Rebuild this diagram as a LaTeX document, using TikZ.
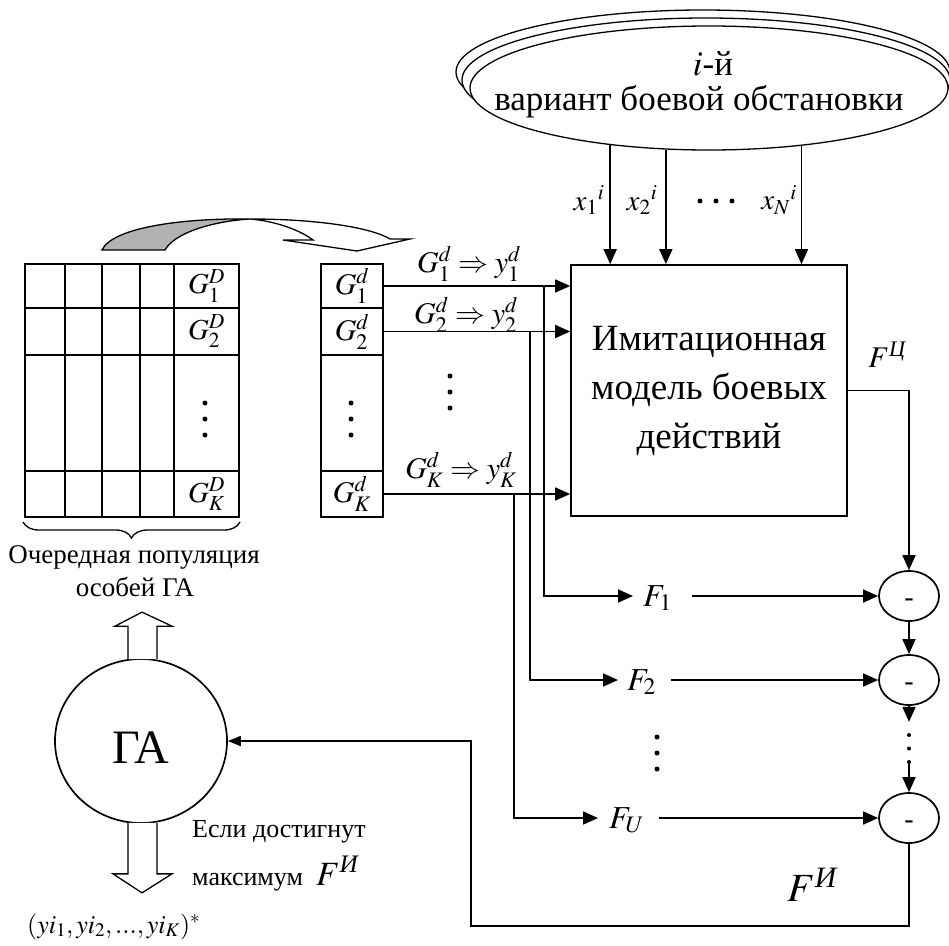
\documentclass[tikz,border=0pt]{standalone}
\usepackage{amsmath}
\usepackage{mathptmx}
\usepackage{fontspec}
\setmainfont{Liberation Serif}
\usepackage{tikz}
\usetikzlibrary{calc,arrows.meta,shapes.geometric,decorations.pathreplacing}
\tikzset{
  base/.style={draw=black, line width=1.7pt},
  thin/.style={draw=black, line width=1.3pt},
  conn/.style={base, -{Triangle[length=15pt,width=13pt]}},
  connsm/.style={base, -{Triangle[length=13pt,width=10pt]}},
  cell/.style={base, rectangle, minimum width=62pt, inner sep=0pt, font=\fontsize{30}{30}\selectfont},
  dotline/.style={line width=5pt, line cap=round, dash pattern=on 0pt off 16pt},
  minus/.style={base, ellipse, minimum width=60pt, minimum height=50pt, inner sep=0pt,
                font=\fontsize{28}{28}\selectfont},
  txt/.style={font=\fontsize{27}{30}\selectfont, inner sep=0pt},
  lab/.style={font=\fontsize{29}{32}\selectfont, inner sep=1pt},
  flab/.style={lab, font=\fontsize{32}{34}\selectfont, inner sep=0pt},
}

\begin{document}
\begin{tikzpicture}[x=1pt,y=-1pt]
  \useasboundingbox (0,0) rectangle (949,945);
  % situation variants, stacked
  \draw[thin] (703,72) ellipse [x radius=247, y radius=62];
  \draw[thin, fill=white] (706,80) ellipse [x radius=244, y radius=62];
  \node[thin, ellipse, fill=white, minimum width=478pt, minimum height=124pt, inner sep=0pt] (sit) at (709,88) {};
  \node[font=\fontsize{35}{38}\selectfont] (sitn) at (713,64) {$i$-й};
  \node[font=\fontsize{35}{38}\selectfont] (sitt) at (699,102) {вариант боевой обстановки};

  % simulation model
  \node[base, minimum width=276pt, minimum height=251pt, inner sep=0pt, align=center,
        font=\fontsize{37}{49}\selectfont] (model) at (709,390.5)
        {Имитационная\\модель боевых\\действий};
  \draw[conn] (sit.210.6) -- (sit.210.6 |- model.north);
  \draw[conn] (sit.235.4) -- (sit.235.4 |- model.north);
  \draw[conn] (sit.328.8) -- (sit.328.8 |- model.north);
  \node[lab] (x1) at (589,200) {$x_1{}^{i}$};
  \node[lab] (x2) at (642,200) {$x_2{}^{i}$};
  \draw[dotline] (700,201) -- (733,201);
  \node[lab] (xn) at (779,200) {$x_N{}^{i}$};

  % population matrix
  \draw[base] (25,264) rectangle (239,517);
  \foreach \x in {65,102,140,174} \draw[base] (\x,264) -- (\x,517);
  \foreach \y in {308,355,471} \draw[base] (25,\y) -- (239,\y);
  \node[lab] (m1) at (206.5,286) {$G_1^D$};
  \node[lab] (m2) at (206.5,331.5) {$G_2^D$};
  \node[lab] (mk) at (206.5,494) {$G_K^D$};
  \draw[dotline] (205,403) -- (205,436);
  \draw[thin, decorate, decoration={brace, mirror, amplitude=16pt}] (23,522) -- (240,522);
  \node[txt, anchor=base] (pop1) at (134,563) {Очередная популяция};
  \node[txt, anchor=base] (pop2) at (135,596) {особей ГА};

  % curved transfer arrow
  \filldraw[thin, fill=black!30] (102,250) .. controls (112,228) and (180,218) .. (250,219)
     .. controls (215,221) and (175,232) .. (165,250) -- cycle;
  \draw[thin, fill=white] (250,219) .. controls (320,219) and (372,228) .. (390,239)
     -- (410,239) -- (357,251) -- (283,240) -- (313,240)
     .. controls (300,230) and (275,221) .. (250,219);

  % decoded column
  \node[cell, minimum height=44pt] (g1) at (352,286) {$G_1^d$};
  \node[cell, minimum height=47pt] (g2) at (352,331.5) {$G_2^d$};
  \node[cell, minimum height=116pt] (gm) at (352,413) {};
  \node[cell, minimum height=46pt] (gk) at (352,494) {$G_K^d$};
  \draw[dotline] (351,403) -- (351,436);

  \draw[conn] (g1.east) -- (g1.east -| model.west);
  \draw[conn] (g2.east) -- (g2.east -| model.west);
  \draw[conn] (gk.east) -- (gk.east -| model.west);
  \node[lab, font=\fontsize{30}{32}\selectfont] (r1) at (469,264) {$G_1^d \Rightarrow y_1^d$};
  \node[lab, font=\fontsize{30}{32}\selectfont] (r2) at (466,315) {$G_2^d \Rightarrow y_2^d$};
  \node[lab, font=\fontsize{30}{32}\selectfont] (rk) at (461,470) {$G_K^d \Rightarrow y_K^d$};
  \draw[dotline] (450,376) -- (450,409);

  % criteria
  \path (g1.east) ++(160,0) coordinate (b1);
  \path (g2.east) ++(146,0) coordinate (b2);
  \path (gk.east) ++(130,0) coordinate (bk);
  \node[minus] (c1) at (909,596) {\raisebox{-10pt}[0pt][0pt]{-}};
  \node[minus] (c2) at (909,680) {\raisebox{-10pt}[0pt][0pt]{-}};
  \node[minus] (c3) at (909,818) {\raisebox{-10pt}[0pt][0pt]{-}};
  \node[flab, anchor=base west] (f1) at (643,606) {$F_1$};
  \node[flab, anchor=base west] (f2) at (627,690) {$F_2$};
  \node[flab, anchor=base west] (fu) at (609,828) {$F_U$};
  \draw[conn] (b1) |- ([xshift=-10pt]f1.west |- c1.west);
  \draw[conn] (b2) |- ([xshift=-9pt]f2.west |- c2.west);
  \draw[conn] (bk) |- ([xshift=-11pt]fu.west |- c3.west);
  \draw[dotline] (657,737) -- (657,770);
  \draw[conn] ([xshift=20pt]f1.east |- c1.west) -- (c1.west);
  \draw[conn] ([xshift=15pt]f2.east |- c2.west) -- (c2.west);
  \draw[conn] ([xshift=15pt]fu.east |- c3.west) -- (c3.west);

  \draw[conn] (model.east) -| (c1.north);
  \node[lab, font=\fontsize{30}{30}\selectfont] (fc) at (887,355) {$F^{\text{\itshape Ц}}$};
  \draw[conn] (c1.south) -- (c2.north);
  \path (c2.south) ++(0,16) coordinate (d1);
  \path (c3.north) ++(0,-28) coordinate (d2);
  \draw[conn] (c2.south) -- (d1);
  \draw[dotline, line width=4pt, dash pattern=on 0pt off 13.5pt] (909,735) -- (909,763);
  \draw[conn] (d2) -- (c3.north);

  % feedback to GA
  \node[base, ellipse, minimum width=172pt, minimum height=164pt, text height=44pt, text depth=0pt,
        font=\fontsize{48}{48}\selectfont] (ga) at (141,741) {ГА};
  \coordinate (fb) at (471,926);
  \draw[connsm] (c3.south) |- (fb) |- (ga.east);
  \node[lab, font=\fontsize{40}{40}\selectfont] (fi) at (812,885) {$F^{\text{\itshape И}}$};

  \begin{scope}[shift={(ga.north)}]
    \draw[thin, fill=white] (-13,1) -- (-13,-32) -- (-26,-32) -- (1,-46) -- (31,-32) -- (16,-32) -- (16,1);
  \end{scope}
  \begin{scope}[shift={(ga.south)}]
    \draw[thin, fill=white] (-13,-1) -- (-13,50) -- (-28,50) -- (1,69) -- (31,50) -- (16,50) -- (16,-1);
  \end{scope}
  \node[txt, font=\fontsize{26}{28}\selectfont, anchor=base west] (cond1) at (192,837) {Если достигнут};
  \node[txt, font=\fontsize{26}{28}\selectfont, anchor=base west] (cond2) at (192,885)
        {максимум \ {\fontsize{34}{34}\selectfont$F^{\text{\itshape И}}$}};
  \node[lab, anchor=base west, font=\fontsize{26}{30}\selectfont] (res) at (26,933)
        {$(yi_1, yi_2, ..., yi_K)^{*}$};
\end{tikzpicture}
\end{document}
